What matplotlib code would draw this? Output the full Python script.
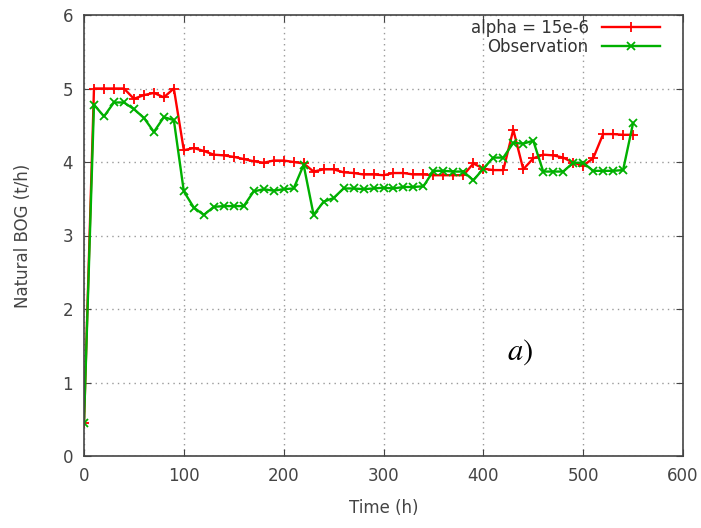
import numpy as np
import matplotlib.pyplot as plt

# tempo (h), um ponto a cada 10 h
time = np.arange(0, 551, 10)

bog_alpha = [0.45, 5.0, 5.0, 5.0, 5.0, 4.86, 4.91, 4.94, 4.88, 5.0,
             4.16, 4.19, 4.15, 4.10, 4.09, 4.07, 4.04, 4.01, 3.99, 4.02,
             4.02, 4.0, 3.98, 3.87, 3.90, 3.90, 3.86, 3.85, 3.83, 3.83,
             3.82, 3.85, 3.85, 3.83, 3.83, 3.82, 3.82, 3.82, 3.82, 3.98,
             3.91, 3.89, 3.89, 4.44, 3.90, 4.05, 4.10, 4.09, 4.06, 3.99,
             3.95, 4.05, 4.38, 4.38, 4.37, 4.37]

bog_obs = [0.45, 4.78, 4.62, 4.81, 4.81, 4.72, 4.60, 4.41, 4.61, 4.57,
           3.60, 3.38, 3.28, 3.39, 3.40, 3.40, 3.40, 3.60, 3.63, 3.61,
           3.63, 3.64, 3.96, 3.28, 3.46, 3.51, 3.64, 3.64, 3.63, 3.64,
           3.65, 3.64, 3.66, 3.66, 3.67, 3.88, 3.88, 3.87, 3.87, 3.75,
           3.91, 4.06, 4.06, 4.26, 4.25, 4.29, 3.87, 3.87, 3.87, 3.99,
           3.99, 3.88, 3.88, 3.88, 3.89, 4.53]

plt.rcParams['mathtext.fontset'] = 'stix'

fig = plt.figure(figsize=(7.01, 5.28), dpi=100)
ax = fig.add_axes([84/701, 1 - 456/528, (683 - 84)/701, (456 - 15)/528])

ax.plot(time, bog_alpha, color='#ff0000', marker='+', markersize=7, mew=1.3,
        linewidth=1.7, label='alpha = 15e-6')
ax.plot(time, bog_obs, color='#00b000', marker='x', markersize=6, mew=1.3,
        linewidth=1.7, label='Observation')

ax.set_xlim(0, 600)
ax.set_ylim(0, 6)
ax.set_xticks(range(0, 601, 100))
ax.set_yticks(range(0, 7))
ax.grid(True, linestyle=(0, (1, 3)), color='#999999', linewidth=1)

for s in ax.spines.values():
    s.set_color('#444444')
    s.set_linewidth(1.2)
ax.tick_params(direction='in', top=True, right=True, length=5, color='#444444',
               labelsize=12, labelcolor='#444444', pad=8)

ax.set_xlabel('Time (h)', fontsize=12, color='#444444', labelpad=10)
ax.set_ylabel('Natural BOG (t/h)', fontsize=12, color='#444444', labelpad=22)

ax.legend(loc='upper right', bbox_to_anchor=((662 - 84) / 599, 1 - 2 / 441),
          frameon=False, markerfirst=False, fontsize=12,
          handlelength=3.5, handletextpad=0.8, labelspacing=0.05,
          borderaxespad=0, borderpad=0.1, labelcolor='#333333')

ax.text(437, 1.41, '$a)$', fontsize=22, ha='center', va='center')

fig.savefig('out.png', dpi=100)
